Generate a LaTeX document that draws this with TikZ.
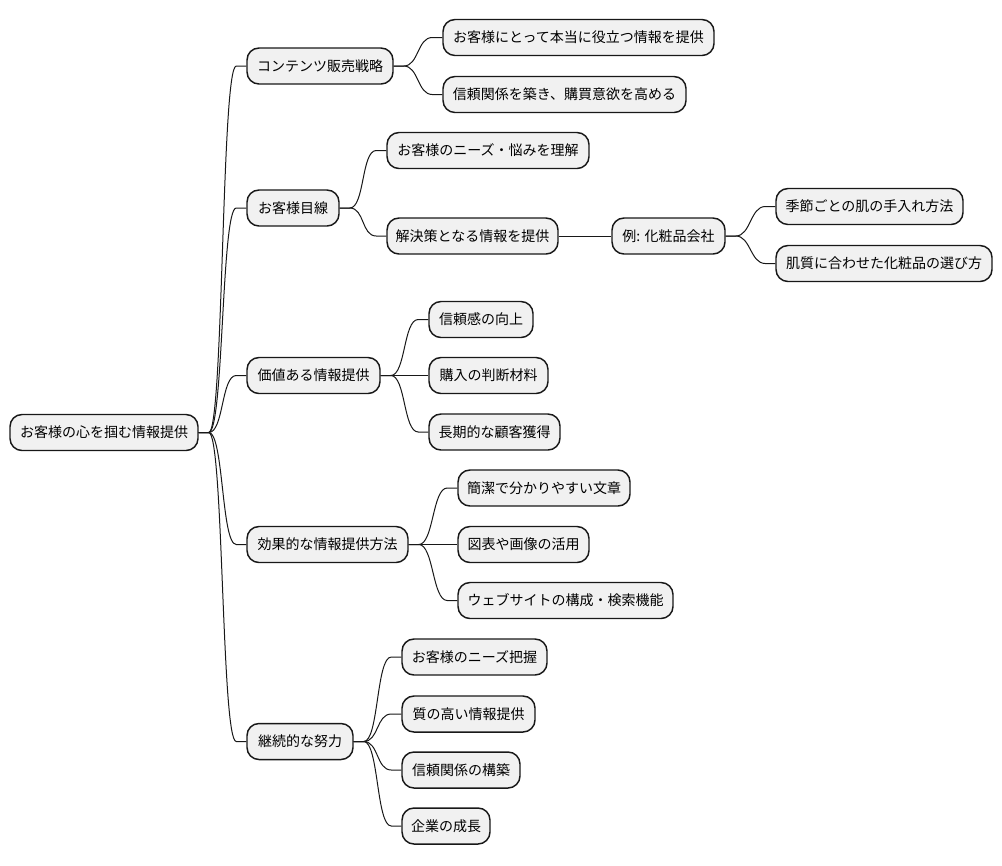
\documentclass[tikz,border=0pt]{standalone}
\usepackage{fontspec}
\setmainfont{Noto Sans CJK JP}
\usetikzlibrary{calc}
\definecolor{nodefill}{HTML}{F1F1F1}
\definecolor{nodeline}{HTML}{181818}
\tikzset{
  mm/.style={draw=nodeline, fill=nodefill, line width=1.1pt, rounded corners=9pt,
    minimum height=27pt, inner xsep=2pt, inner ysep=0pt,
    font=\fontsize{10.5pt}{12pt}\selectfont, text=black},
  connline/.style={draw=nodeline, line width=0.75pt},
}
\newcommand\mnode[5]{\node[mm, minimum width={(#3-#2)*0.75pt}] (#1) at ({(#2+#3)/2},#4) {#5};}
\newcommand\conn[2]{\draw[connline] (#1.east) -- ($(#1.east)+(10,0)$) .. controls ($(#1.east)+(25,0)$) and ($(#2.west)+(-25,0)$) .. ($(#2.west)+(-10,0)$) -- (#2.west);}
\begin{document}
\begin{tikzpicture}[x=0.75pt,y=-0.75pt]
\useasboundingbox (0,0) rectangle (1002,865);
\mnode{root}{10}{198}{432.5}{お客様の心を掴む情報提供}
\mnode{a}{247}{393}{66}{コンテンツ販売戦略}
\mnode{a1}{443}{714}{37.5}{お客様にとって本当に役立つ情報を提供}
\mnode{a2}{443}{686}{94.5}{信頼関係を築き、購買意欲を高める}
\mnode{b}{247}{339}{208}{お客様目線}
\mnode{b1}{387}{589}{150.5}{お客様のニーズ・悩みを理解}
\mnode{b2}{387}{558}{236}{解決策となる情報を提供}
\mnode{b3}{612}{725}{236}{例: 化粧品会社}
\mnode{b31}{776}{963}{206.5}{季節ごとの肌の手入れ方法}
\mnode{b32}{776}{992}{263.5}{肌質に合わせた化粧品の選び方}
\mnode{c}{247}{380}{375.5}{価値ある情報提供}
\mnode{c1}{429}{533}{319.5}{信頼感の向上}
\mnode{c2}{429}{548}{375.5}{購入の判断材料}
\mnode{c3}{429}{560}{432}{長期的な顧客獲得}
\mnode{d}{247}{408}{544.5}{効果的な情報提供方法}
\mnode{d1}{458}{630}{488}{簡潔で分かりやすい文章}
\mnode{d2}{458}{589}{544.5}{図表や画像の活用}
\mnode{d3}{458}{673}{600.5}{ウェブサイトの構成・検索機能}
\mnode{e}{247}{353}{741.5}{継続的な努力}
\mnode{e1}{402}{547}{657}{お客様のニーズ把握}
\mnode{e2}{402}{535}{714}{質の高い情報提供}
\mnode{e3}{402}{520}{770}{信頼関係の構築}
\mnode{e4}{402}{490}{826}{企業の成長}
\conn{root}{a}\conn{root}{b}\conn{root}{c}\conn{root}{d}\conn{root}{e}
\conn{a}{a1}\conn{a}{a2}
\conn{b}{b1}\conn{b}{b2}
\draw[connline] (b2.east) -- (b3.west);
\conn{b3}{b31}\conn{b3}{b32}
\conn{c}{c1}\conn{c}{c2}\conn{c}{c3}
\conn{d}{d1}\conn{d}{d2}\conn{d}{d3}
\conn{e}{e1}\conn{e}{e2}\conn{e}{e3}\conn{e}{e4}
\end{tikzpicture}
\end{document}
